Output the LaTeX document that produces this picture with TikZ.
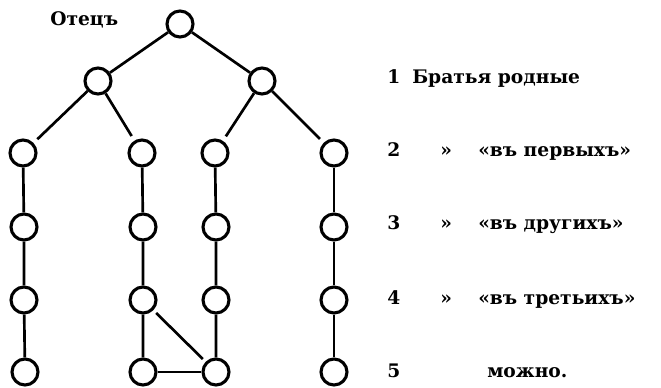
\documentclass[tikz,border=0pt]{standalone}
\usepackage{fontspec}
\setmainfont{DejaVu Serif}
\usetikzlibrary{positioning}

\begin{document}
\begin{tikzpicture}[x=0.75pt,y=-0.75pt,
        person/.style={draw, circle, line width=2.3pt, minimum size=19.5pt, inner sep=0pt},
        tie/.style={line width=2pt},
        caption/.style={anchor=base west, inner sep=0pt, font=\bfseries\fontsize{14}{16}\selectfont}]
        \useasboundingbox (0,0) rectangle (661,388);

        % father and sons
        \node[person] (f) at (180,24) {};
        \node[person] (s1) at (98,81) {};
        \node[person] (s2) at (262,81) {};

        % grandsons and further down
        \node[person] (a1) at (23,153) {};
        \node[person] (a2) at (142,153) {};
        \node[person] (a3) at (215,153) {};
        \node[person] (a4) at (334,153) {};
        \node[person] (b1) at (24,227) {};
        \node[person] (b2) at (143,227) {};
        \node[person] (b3) at (216,227) {};
        \node[person] (b4) at (334,227) {};
        \node[person] (c1) at (24,300) {};
        \node[person] (c2) at (143,300) {};
        \node[person] (c3) at (216,300) {};
        \node[person] (c4) at (334,300) {};
        \node[person] (d1) at (25,372) {};
        \node[person] (d2) at (143,372) {};
        \node[person] (d3) at (216,372) {};
        \node[person] (d4) at (334,372) {};

        \draw[tie] (f) -- (s1) ;
        \draw[tie] (f) -- (s2) ;
        \draw[tie, shorten >=4pt] (s1) -- (a1) ;
        \draw[tie, shorten >=4pt] (s1) -- (a2) ;
        \draw[tie, shorten >=4pt] (s2) -- (a3) ;
        \draw[tie, shorten >=4pt] (s2) -- (a4) ;
        \draw[tie] (a1) -- (b1) -- (c1) -- (d1) ;
        \draw[tie] (a2) -- (b2) -- (c2) -- (d2) ;
        \draw[tie] (a3) -- (b3) -- (c3) -- (d3) ;
        \draw[tie] (a4) -- (b4) -- (c4) -- (d4) ;
        \draw[tie, shorten <=3pt, shorten >=3pt] (c2) -- (d3) ;
        \draw[tie] (d2) -- (d3) ;

        % legend
        \node[caption] (otec) at (50,26) {Отецъ};
        \node[caption] (n1) at (387,84) {1};
        \node[caption] (t1) at (412,84) {Братья родные};
        \node[caption] (n2) at (387,157) {2};
        \node[caption] (q2) at (440,157) {»};
        \node[caption] (t2) at (478,157) {«въ первыхъ»};
        \node[caption] (n3) at (387,230) {3};
        \node[caption] (q3) at (440,230) {»};
        \node[caption] (t3) at (478,230) {«въ другихъ»};
        \node[caption] (n4) at (387,305) {4};
        \node[caption] (q4) at (440,305) {»};
        \node[caption] (t4) at (478,305) {«въ третьихъ»};
        \node[caption] (n5) at (387,378) {5};
        \node[caption] (t5) at (487,378) {можно.};
\end{tikzpicture}
\end{document}
